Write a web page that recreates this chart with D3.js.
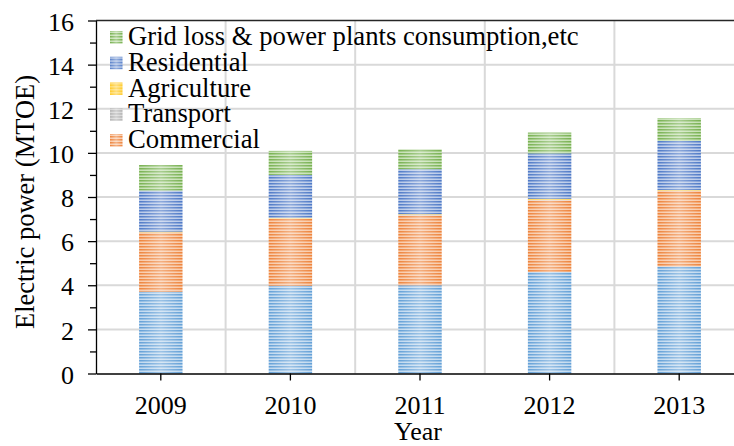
<!DOCTYPE html>
<html>
<head>
<meta charset="utf-8">
<script src="https://cdn.jsdelivr.net/npm/d3@7"></script>
<style>
  html, body { margin: 0; padding: 0; background: #fff; }
  svg { display: block; font-family: "Liberation Serif", "Times New Roman", serif; }
</style>
</head>
<body>
<svg id="chart" width="734" height="446"></svg>
<script>
// Electricity use by sector, MTOE
const years       = ["2009", "2010", "2011", "2012", "2013"];
const industrial  = [3.71, 3.98, 4.00, 4.60, 4.85];
const commercial  = [2.68, 3.03, 3.17, 3.25, 3.42];
const transport   = [0.01, 0.01, 0.02, 0.02, 0.02];
const agriculture = [0.03, 0.04, 0.03, 0.05, 0.03];
const residential = [1.86, 1.94, 2.04, 2.06, 2.22];
const gridLoss    = [1.16, 1.09, 0.90, 0.94, 1.03];

const seriesKeys   = ["Industrial", "Commercial", "Transport", "Agriculture", "Residential", "Grid loss & power plants consumption,etc"];
const seriesValues = [industrial, commercial, transport, agriculture, residential, gridLoss];
const legendKeys   = ["Grid loss & power plants consumption,etc", "Residential", "Agriculture", "Transport", "Commercial"];
const yTicks       = [0, 2, 4, 6, 8, 10, 12, 14, 16];
const yMinorTicks  = [1, 3, 5, 7, 9, 11, 13, 15];

const colors = {
  "Industrial": ["#5b9bd5", "#d6e6f5"],
  "Commercial": ["#ed7d31", "#fbd9c1"],
  "Transport": ["#a5a5a5", "#e6e6e6"],
  "Agriculture": ["#ffc000", "#ffeaa6"],
  "Residential": ["#4472c4", "#cfdbf0"],
  "Grid loss & power plants consumption,etc": ["#70ad47", "#d6eac8"]
};

const rows = years.map((yr, i) => {
  const r = { year: yr };
  seriesKeys.forEach((k, j) => { r[k] = seriesValues[j][i]; });
  return r;
});

const svg = d3.select("#chart");
const plotLeft = 96, plotRight = 744, plotTop = 20.5, plotBottom = 373.5;

const x = d3.scaleBand().domain(years).range([plotLeft, plotRight]).paddingInner(0.665).paddingOuter(0.3325);
const y = d3.scaleLinear().domain([0, 16]).range([plotBottom, plotTop]);

// striped fills
const defs = svg.append("defs");
seriesKeys.forEach((k, i) => {
  const p = defs.append("pattern").attr("id", "pat" + i)
    .attr("patternUnits", "userSpaceOnUse").attr("width", 6).attr("height", 3);
  p.append("rect").attr("width", 6).attr("height", 3).attr("fill", colors[k][0]);
  p.append("rect").attr("y", 1.6).attr("width", 6).attr("height", 1.2).attr("fill", colors[k][1]);
});
const glow = defs.append("linearGradient").attr("id", "glow").attr("x1", 0).attr("x2", 1).attr("y1", 0).attr("y2", 0);
glow.append("stop").attr("offset", "0%").attr("stop-color", "#fff").attr("stop-opacity", 0.05);
glow.append("stop").attr("offset", "50%").attr("stop-color", "#fff").attr("stop-opacity", 0.4);
glow.append("stop").attr("offset", "100%").attr("stop-color", "#fff").attr("stop-opacity", 0.05);

// gridlines
const grid = svg.append("g").attr("stroke", "#d9d9d9").attr("stroke-width", 2);
grid.selectAll("line.h").data(yTicks.filter(t => t > 0 && t < 16)).join("line")
  .attr("class", "h")
  .attr("x1", plotLeft).attr("x2", plotRight).attr("y1", d => y(d)).attr("y2", d => y(d));
grid.selectAll("line.v").data(d3.range(1, years.length + 1)).join("line")
  .attr("class", "v")
  .attr("x1", d => plotLeft + x.step() * d).attr("x2", d => plotLeft + x.step() * d)
  .attr("y1", plotTop).attr("y2", plotBottom);

// stacked bars
const stacked = d3.stack().keys(seriesKeys)(rows);
const layers = svg.append("g").selectAll("g").data(stacked).join("g");
layers.selectAll("rect.seg").data((d, i) => d.map(v => ({ v, i }))).join("rect")
  .attr("class", "seg")
  .attr("x", d => x(d.v.data.year)).attr("width", x.bandwidth())
  .attr("y", d => y(d.v[1])).attr("height", d => y(d.v[0]) - y(d.v[1]))
  .attr("fill", d => "url(#pat" + d.i + ")");
layers.selectAll("rect.glow").data((d, i) => d.map(v => ({ v, i }))).join("rect")
  .attr("class", "glow")
  .attr("x", d => x(d.v.data.year)).attr("width", x.bandwidth())
  .attr("y", d => y(d.v[1])).attr("height", d => y(d.v[0]) - y(d.v[1]))
  .attr("fill", "url(#glow)");

// top border
svg.append("line").attr("x1", plotLeft).attr("x2", plotRight).attr("y1", plotTop).attr("y2", plotTop)
  .attr("stroke", "#262626").attr("stroke-width", 1.5);

// y axis
const yAxis = svg.append("g").attr("transform", `translate(${plotLeft},0)`)
  .call(d3.axisLeft(y).tickValues(yTicks).tickSize(8).tickPadding(14).tickSizeOuter(0));
yAxis.selectAll(".tick text").attr("dy", "0.37em");
svg.append("g").attr("transform", `translate(${plotLeft},0)`)
  .call(d3.axisLeft(y).tickValues(yMinorTicks).tickSize(6).tickFormat("").tickSizeOuter(0))
  .select(".domain").remove();

// x axis
svg.append("g").attr("transform", `translate(0,${plotBottom})`)
  .call(d3.axisBottom(x).tickSize(7).tickPadding(15).tickSizeOuter(0));

svg.selectAll(".tick line, .domain").attr("stroke", "#000").attr("stroke-width", 1.3);
svg.selectAll(".tick text").attr("font-family", "Liberation Serif").attr("font-size", 26).attr("fill", "#000");

// axis titles
svg.append("text").attr("transform", "translate(34,202) rotate(-90)")
  .attr("text-anchor", "middle").attr("font-size", 26.5).attr("fill", "#000")
  .text("Electric power (MTOE)");
svg.append("text").attr("x", 418).attr("y", 440)
  .attr("text-anchor", "middle").attr("font-size", 26).attr("fill", "#000")
  .text("Year");

// legend
const legend = svg.append("g");
const lg = legend.selectAll("g").data(legendKeys).join("g")
  .attr("transform", (d, i) => `translate(110,${45 + i * 25.75})`);
lg.append("rect").attr("x", 0).attr("y", -14).attr("width", 12.5).attr("height", 12.5)
  .attr("fill", d => "url(#pat" + seriesKeys.indexOf(d) + ")");
lg.append("rect").attr("x", 0).attr("y", -14).attr("width", 12.5).attr("height", 12.5)
  .attr("fill", "url(#glow)");
lg.append("text").attr("x", 18).attr("y", 0).attr("font-size", 26.7).attr("fill", "#000")
  .text(d => d);
</script>
</body>
</html>
